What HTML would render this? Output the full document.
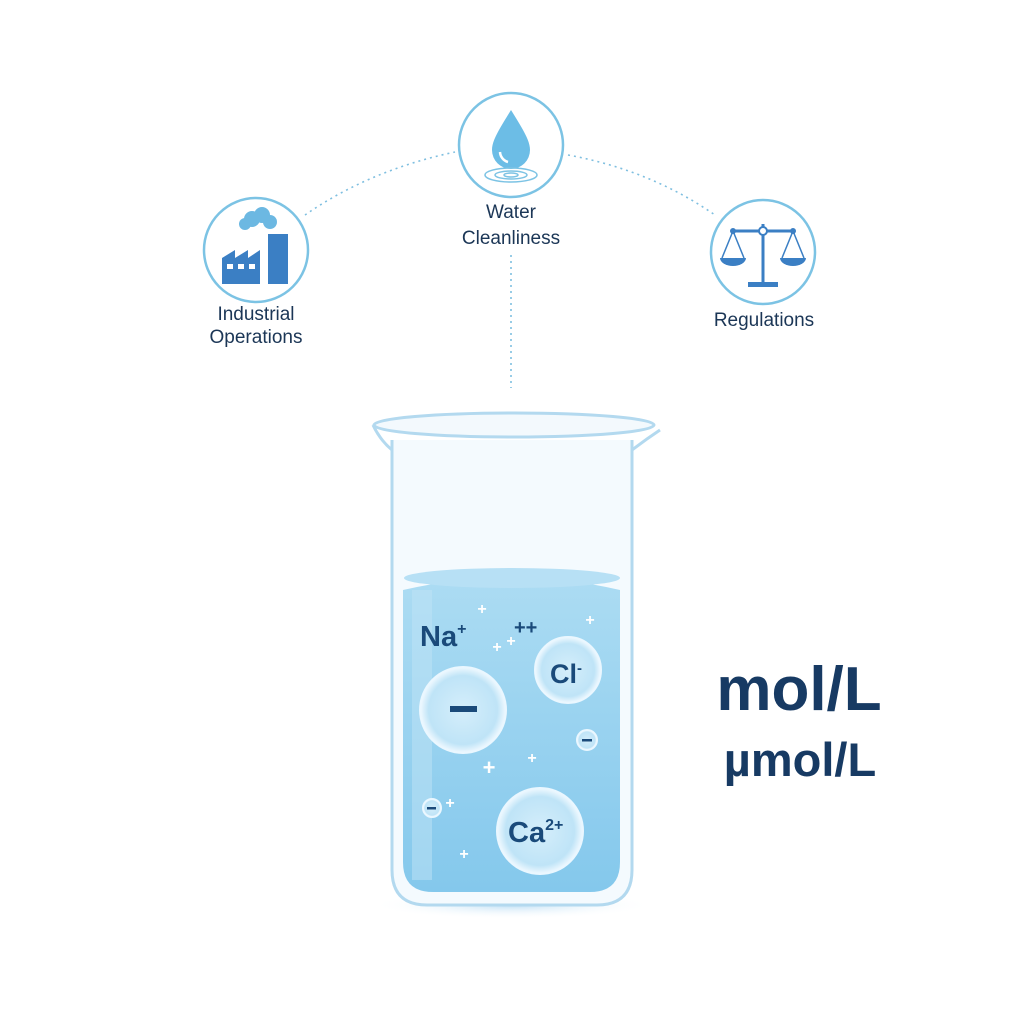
<!DOCTYPE html>
<html><head><meta charset="utf-8"><style>
html,body{margin:0;padding:0;background:#fff;}
svg{display:block;font-family:"Liberation Sans",sans-serif;}
</style></head><body>
<svg width="1024" height="1024" viewBox="0 0 1024 1024">
<defs>
<linearGradient id="liq" x1="0" y1="0" x2="0" y2="1"><stop offset="0" stop-color="#acdcf3"/><stop offset="1" stop-color="#84c8ec"/></linearGradient>
<radialGradient id="bub" cx="0.5" cy="0.5" r="0.5"><stop offset="0" stop-color="#d5eefb"/><stop offset="0.8" stop-color="#bfe4f7"/><stop offset="1" stop-color="#f0f9ff"/></radialGradient>
<radialGradient id="sh" cx="0.5" cy="0.5" r="0.5"><stop offset="0" stop-color="#bfe0f5"/><stop offset="1" stop-color="#fff" stop-opacity="0"/></radialGradient>
</defs>
<rect width="1024" height="1024" fill="#fff"/>
<g fill="none" stroke="#7fbfe0" stroke-width="1.6" stroke-dasharray="2 4">
<path d="M305 215 Q370 170 455 152"/>
<path d="M568 155 Q650 170 715 215"/>
<path d="M511 255 L511 388"/>
</g>
<g fill="#fff" stroke="#7cc3e4" stroke-width="2.5">
<circle cx="256" cy="250" r="52"/>
<circle cx="511" cy="145" r="52"/>
<circle cx="763" cy="252" r="52"/>
</g>
<g fill="#3b7fc4">
<circle cx="252" cy="219" r="8" fill="#6cb8e2"/><circle cx="262" cy="215" r="8" fill="#6cb8e2"/><circle cx="270" cy="222" r="7" fill="#6cb8e2"/><circle cx="245" cy="224" r="6" fill="#6cb8e2"/>
<path d="M222 284 L222 258 L235 250 L235 258 L248 250 L248 258 L260 250 L260 284 Z"/>
<rect x="268" y="234" width="20" height="50"/>
</g>
<g fill="#fff"><rect x="227" y="264" width="6" height="5"/><rect x="238" y="264" width="6" height="5"/><rect x="249" y="264" width="6" height="5"/></g>
<path d="M511 110 C500 128 492 140 492 150 A19 19 0 0 0 530 150 C530 140 522 128 511 110 Z" fill="#6cbde6"/>
<path d="M500 152 A11 11 0 0 0 508 162" stroke="#fff" stroke-width="2.5" fill="none"/>
<g fill="none" stroke="#7cc3e4" stroke-width="1.5"><ellipse cx="511" cy="175" rx="26" ry="7"/><ellipse cx="511" cy="175" rx="16" ry="4"/><ellipse cx="511" cy="175" rx="7" ry="2"/></g>
<g stroke="#3b7fc4" stroke-width="3" fill="none">
<line x1="763" y1="224" x2="763" y2="283"/><line x1="733" y1="231" x2="793" y2="231"/>
<path d="M733 231 L722 258 M733 231 L744 258 M793 231 L782 258 M793 231 L804 258" stroke-width="1.5"/>
</g>
<g fill="#3b7fc4"><path d="M720 258 L746 258 A13 8 0 0 1 720 258Z"/><path d="M780 258 L806 258 A13 8 0 0 1 780 258Z"/><rect x="748" y="282" width="30" height="5"/>
<circle cx="763" cy="231" r="4" fill="#fff" stroke="#3b7fc4" stroke-width="2"/><circle cx="733" cy="231" r="3"/><circle cx="793" cy="231" r="3"/></g>
<g fill="#1b3656" font-size="19" text-anchor="middle">
<text x="256" y="320">Industrial</text><text x="256" y="343">Operations</text>
<text x="511" y="218">Water</text><text x="511" y="244">Cleanliness</text>
<text x="764" y="326">Regulations</text>
</g>
<ellipse cx="512" cy="905" rx="140" ry="14" fill="url(#sh)"/>
<path d="M392 440 L392 870 Q392 905 427 905 L597 905 Q632 905 632 870 L632 440" fill="#f4fafe" stroke="#b3d9ef" stroke-width="3"/>
<path d="M403 590 Q512 565 620 590 L620 862 Q620 892 590 892 L433 892 Q403 892 403 862 Z" fill="url(#liq)"/>
<ellipse cx="512" cy="578" rx="108" ry="10" fill="#b7e0f5"/>
<rect x="412" y="590" width="20" height="290" fill="#bfe4f6" opacity="0.5"/>
<path d="M373 425 Q380 440 392 450 M632 450 Q645 440 660 430" stroke="#b3d9ef" stroke-width="3" fill="none"/>
<ellipse cx="514" cy="425" rx="140" ry="12" fill="#f3f9fd" stroke="#b3d9ef" stroke-width="3"/>
<g stroke="#eaf7ff" stroke-width="2" fill="url(#bub)">
<circle cx="463" cy="710" r="43"/><circle cx="568" cy="670" r="33"/><circle cx="540" cy="831" r="43"/>
<circle cx="587" cy="740" r="10"/><circle cx="432" cy="808" r="9"/>
</g>
<g fill="#1a4a7a" font-weight="bold">
<rect x="450" y="706" width="27" height="6"/>
<rect x="582" y="739" width="10" height="2.5"/><rect x="427" y="807" width="9" height="2.5"/>
<text x="420" y="646" font-size="29">Na<tspan font-size="16" dy="-12">+</tspan></text>
<text x="514" y="634" font-size="20">++</text>
<text x="550" y="683" font-size="27">Cl<tspan font-size="15" dy="-10">-</tspan></text>
<text x="508" y="842" font-size="29">Ca<tspan font-size="16" dy="-12">2+</tspan></text>
</g>
<g fill="#fff" font-size="16" font-weight="bold" text-anchor="middle">
<text x="482" y="614">+</text><text x="590" y="625">+</text><text x="511" y="646">+</text><text x="497" y="652">+</text>
<text x="489" y="775" font-size="22">+</text><text x="532" y="763">+</text><text x="450" y="808">+</text><text x="464" y="859">+</text>
</g>
<g fill="#173a63" font-weight="bold" text-anchor="middle">
<text x="799" y="710" font-size="62">mol/L</text>
<text x="800" y="776" font-size="47">µmol/L</text>
</g>
</svg>
</body></html>
